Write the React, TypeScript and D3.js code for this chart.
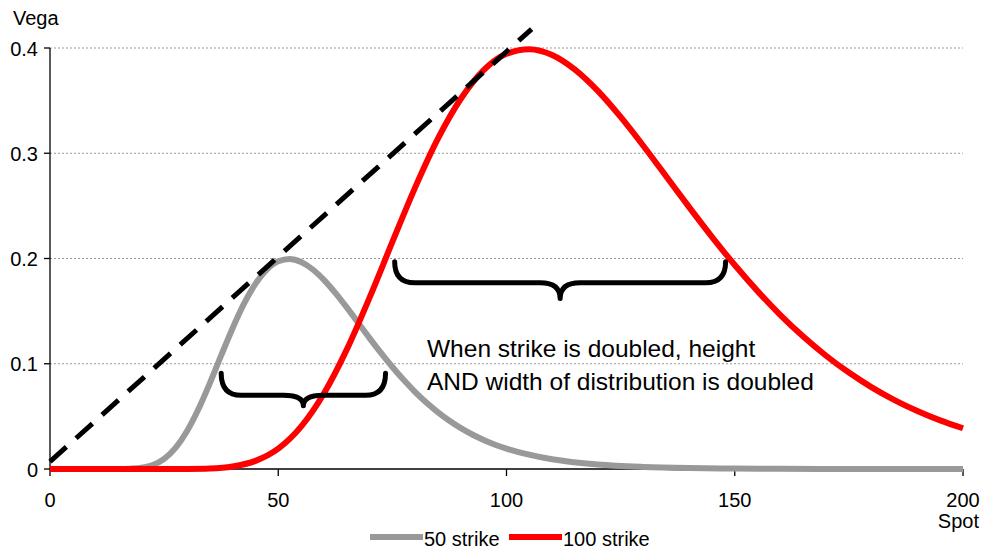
import React from 'react';
import * as d3 from 'd3';

// spot grid for the 100 strike curve
const redSpot = [0, 5, 10, 15, 20, 25, 30, 35, 40, 45, 50, 55, 60, 65, 70, 75, 80, 85, 90, 95, 100,
  105, 110, 115, 120, 125, 130, 135, 140, 145, 150, 155, 160, 165, 170, 175, 180, 185, 190, 195, 200];
const redVega = [0, 0, 0, 0, 0, 0, 0.0001, 0.0005, 0.0024, 0.0077, 0.0193, 0.0402, 0.0717, 0.1134, 0.1628, 0.2157, 0.2676, 0.3141, 0.3518, 0.379, 0.3945,
  0.3989, 0.3934, 0.3795, 0.3593, 0.3345, 0.3069, 0.2779, 0.2488, 0.2206, 0.1938, 0.169, 0.1462, 0.1258, 0.1076, 0.0916, 0.0776, 0.0655, 0.0551, 0.0462, 0.0387];

// spot grid for the 50 strike curve
const graySpot = [0, 5, 10, 12.5, 15, 17.5, 20, 22.5, 25, 27.5, 30, 32.5, 35, 37.5, 40, 42.5, 45, 47.5, 50, 52.5, 55, 57.5, 60,
  62.5, 65, 67.5, 70, 72.5, 75, 77.5, 80, 82.5, 85, 87.5, 90, 92.5, 95, 97.5, 100, 110, 120, 130, 140, 150, 160, 180, 200];
const grayVega = [0, 0, 0, 0, 0, 0.0003, 0.0012, 0.0038, 0.0097, 0.0201, 0.0359, 0.0567, 0.0814, 0.1079, 0.1338, 0.1571, 0.1759, 0.1895, 0.1973, 0.1995, 0.1967, 0.1898, 0.1797,
  0.1673, 0.1535, 0.139, 0.1244, 0.1103, 0.0969, 0.0845, 0.0731, 0.0629, 0.0538, 0.0458, 0.0388, 0.0328, 0.0276, 0.0231, 0.0194, 0.0093, 0.0043, 0.002, 0.0009, 0.0004, 0.0002, 0, 0];

// tangent dashed line
const tangentSpot = [0, 105.5];
const tangentVega = [0.007, 0.418];

const xTicks = [0, 50, 100, 150, 200];
const yTicks = [0, 0.1, 0.2, 0.3, 0.4];

// braces: [spot start, spot end, top vega, bar vega, tip vega]
const braces = [
  [37.5, 73.5, 0.091, 0.07, 0.06],
  [75.5, 148, 0.197, 0.177, 0.162],
];

const noteLines = ['When strike is doubled, height', 'AND width of distribution is doubled'];
const legendItems = [
  { name: '50 strike', color: '#999999' },
  { name: '100 strike', color: '#ff0000' },
];

const W = 984;
const H = 549;
const FONT = '"Liberation Sans", Arial, sans-serif';

const App = () => {
  const x = d3.scaleLinear().domain([0, 200]).range([50, 963]);
  const y = d3.scaleLinear().domain([0, 0.4]).range([469, 48]);

  const line = d3.line<[number, number]>()
    .x(d => x(d[0]))
    .y(d => y(d[1]))
    .curve(d3.curveMonotoneX);

  const redPts = redSpot.map((s, i) => [s, redVega[i]] as [number, number]);
  const grayPts = graySpot.map((s, i) => [s, grayVega[i]] as [number, number]);
  const tanPts = tangentSpot.map((s, i) => [s, tangentVega[i]] as [number, number]);

  const bracePath = (b: number[]) => {
    const x0 = x(b[0]), x1 = x(b[1]), xm = (x0 + x1) / 2;
    const yt = y(b[2]), yb = y(b[3]), ytip = y(b[4]);
    const r = 20;
    return `M${x0},${yt} Q${x0},${yb} ${x0 + r},${yb} L${xm - r},${yb} Q${xm},${yb} ${xm},${ytip}` +
      ` Q${xm},${yb} ${xm + r},${yb} L${x1 - r},${yb} Q${x1},${yb} ${x1},${yt}`;
  };

  return (
    <svg width={W} height={H} style={{ position: 'absolute', left: 0, top: 0, background: '#fff' }} fontFamily={FONT}>
      {/* gridlines */}
      {yTicks.filter(t => t > 0).map(t => (
        <line key={t} x1={x(0)} x2={x(200)} y1={y(t)} y2={y(t)} stroke="#999" strokeWidth={1} strokeDasharray="2,2" />
      ))}

      {/* axes */}
      <line x1={x(0)} x2={x(0)} y1={y(0.4)} y2={y(0)} stroke="#000" strokeWidth={1.3} />
      <line x1={x(0)} x2={x(200)} y1={y(0)} y2={y(0)} stroke="#000" strokeWidth={1.3} />
      {yTicks.map(t => (
        <g key={t}>
          <line x1={x(0) - 6} x2={x(0)} y1={y(t)} y2={y(t)} stroke="#000" strokeWidth={1.3} />
          <text x={38} y={y(t) + 7.5} textAnchor="end" fontSize={20} fill="#000">{t === 0 ? '0' : t.toFixed(1)}</text>
        </g>
      ))}
      {xTicks.map(t => (
        <g key={t}>
          <line x1={x(t)} x2={x(t)} y1={y(0)} y2={y(0) + 7} stroke="#000" strokeWidth={1.3} />
          <text x={x(t)} y={507} textAnchor="middle" fontSize={20} fill="#000">{t}</text>
        </g>
      ))}
      <text x={13} y={25} fontSize={20} fill="#000">Vega</text>
      <text x={979} y={528} textAnchor="end" fontSize={20} fill="#000">Spot</text>

      {/* series */}
      <path d={line(grayPts) || ''} fill="none" stroke="#999999" strokeWidth={6} strokeLinejoin="round" />
      <path d={line(redPts) || ''} fill="none" stroke="#ff0000" strokeWidth={6} strokeLinejoin="round" />
      <path d={d3.line<[number, number]>().x(d => x(d[0])).y(d => y(d[1]))(tanPts) || ''}
        fill="none" stroke="#000" strokeWidth={5} strokeDasharray="22,13" />

      {/* braces */}
      {braces.map((b, i) => (
        <path key={i} d={bracePath(b)} fill="none" stroke="#000" strokeWidth={5} strokeLinecap="round" strokeLinejoin="round" />
      ))}

      {/* annotation */}
      {noteLines.map((t, i) => (
        <text key={i} x={427} y={357 + i * 33} fontSize={24.5} fill="#000">{t}</text>
      ))}

      {/* legend */}
      {legendItems.map((it, i) => (
        <g key={it.name} transform={`translate(${370 + i * 139},537)`}>
          <line x1={0} x2={53} y1={0} y2={0} stroke={it.color} strokeWidth={6} />
          <text x={54} y={9} fontSize={20} fill="#000">{it.name}</text>
        </g>
      ))}
    </svg>
  );
};

export default App;
